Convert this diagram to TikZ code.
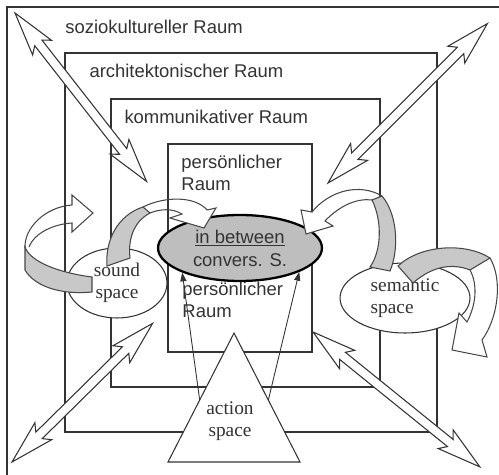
\documentclass[tikz,border=0pt]{standalone}
\usepackage{fontspec}
\setmainfont{Liberation Serif}
\newfontfamily\raumfont{Liberation Sans}
\usetikzlibrary{positioning,calc,arrows.meta,shapes.geometric}

\definecolor{strich}{HTML}{333333}
\definecolor{band}{HTML}{C8C8C8}
\definecolor{mitte}{HTML}{BEBEBE}

\tikzset{
	% Raeume (Rechtecke)
	raum/.style = {rectangle, draw=strich, line width=1pt, inner sep=0pt},
	rlabel/.style = {anchor=west, inner sep=0pt, align=left, text=strich,
	                 font=\raumfont\fontsize{10.5}{12.5}\selectfont},
	% Ellipsen fuer die spaces
	spc/.style = {ellipse, draw=strich, fill=white, line width=0.6pt, inner sep=0pt,
	              text=strich, font=\fontsize{11}{12.5}\selectfont},
	hollow/.style = {draw=strich, fill=white, line width=0.6pt},
	bandfront/.style = {draw=strich!90, fill=band, line width=0.6pt},
	bandback/.style = {draw=strich!90, line width=0.6pt},
	zeiger/.style = {draw=strich, line width=0.5pt, -{Triangle[length=5pt,width=3.5pt]}}
}

% hohler Doppelpfeil von #1 nach #2 (Masse in pt)
\newcommand{\hollowarrow}[2]{%
	\path[hollow] let \p1 = ($(#2)-(#1)$), \n1 = {atan2(\y1,\x1)},
		\n2 = {veclen(\x1,\y1)} in
		{[shift={(#1)}, rotate=\n1]
		(0pt,0pt) -- (25pt,-6.8pt) -- (21.6pt,-2.6pt) -- ({\n2-21.6pt},-2.6pt)
		-- ({\n2-25pt},-6.8pt) -- ({\n2},0pt) -- ({\n2-25pt},6.8pt)
		-- ({\n2-21.6pt},2.6pt) -- (21.6pt,2.6pt) -- (25pt,6.8pt) -- cycle};
}

\begin{document}
\begin{tikzpicture}[x=0.02cm, y=-0.02cm]
	\useasboundingbox (0,0) rectangle (499,475);

	% Raeume
	\draw[strich, line width=1pt] (7,475) |- (499,7);
	\node (arch) [raum, minimum width=7.44cm, minimum height=7.58cm] at (251,242.5) {};
	\node (komm) [raum, minimum width=5.38cm, minimum height=5.76cm] at (245.5,243) {};
	\node (pers) [raum, minimum width=2.88cm, minimum height=4.16cm] at (240,248) {};

	\node (lsoz)  [rlabel] at (65,27) {soziokultureller Raum};
	\node (larch) [rlabel] at ($(arch.north west)+(25,19)$) {architektonischer Raum};
	\node (lkomm) [rlabel] at ($(komm.north west)+(14,19)$) {kommunikativer Raum};
	\node (lpers) [rlabel] at ($(pers.north west)+(14,30)$) {persönlicher\\Raum};
	\node (lpers2) [rlabel] at ($(pers.north west)+(15,157)$) {persönlicher\\Raum};

	% Doppelpfeile
	\coordinate (tlA) at (15,13);   \coordinate (tlB) at (147,182);
	\coordinate (trA) at (328,183); \coordinate (trB) at (488,23);
	\coordinate (blA) at (12,462);  \coordinate (blB) at (153,323);
	\coordinate (brA) at (313,332); \coordinate (brB) at (480,467);
	\hollowarrow{tlA}{tlB}
	\hollowarrow{trA}{trB}
	\hollowarrow{blA}{blB}
	\hollowarrow{brA}{brB}

	% action space
	\coordinate (apex) at (234,333);
	\coordinate (bl) at (168,462);
	\coordinate (br) at (300,462);
	\filldraw[fill=white, draw=strich, line width=0.6pt] (apex) -- (bl) -- (br) -- cycle;
	\node (act) [text=strich, align=center, inner sep=0pt, font=\fontsize{11}{12.5}\selectfont]
		at (230,421) {action\\space};

	% Ellipsen
	\node (snd) [spc, align=center, minimum width=2cm, minimum height=1.4cm] at (117,283) {sound\\space};
	\node (sem) [spc, align=left, minimum width=2.6cm, minimum height=1.4cm] at (405,298) {semantic\\space};
	\node (main) [ellipse, draw=black, line width=1.3pt, fill=mitte, inner sep=0pt,
		minimum width=3.28cm, minimum height=1.32cm, align=center, text=strich,
		font=\raumfont\fontsize{10.5}{13}\selectfont] at (240,248)
		{\underline{in between}\\convers. S.};

	\coordinate (la) at ($(apex)!0.52!(bl)$);
	\coordinate (ra) at ($(apex)!0.52!(br)$);
	\draw[zeiger] (la) -- (main.203);
	\draw[zeiger] (ra) -- (main.338);

	% Schleife links
	\fill[white] (72,205) -- (72,195) -- (93,213) -- (72,232) -- (72,223) -- cycle;
	\draw[bandback] (25,248) .. controls (24,228) and (45,207) .. (72,205) -- (72,195) -- (93,213)
		-- (72,232) -- (72,223) .. controls (55,224) and (35,232) .. (29,247);
	\filldraw[bandfront] (92,277) .. controls (60,273) and (30,262) .. (25,247) -- (25,270)
		.. controls (35,287) and (62,295) .. (92,292) -- cycle;

	% sound space -> Mitte
	\fill[white] (207,210) -- (216,208) -- (204,228) -- (170,218) -- (182,214) -- cycle;
	\draw[bandback] (143,207) .. controls (165,196) and (195,196) .. (207,210) -- (216,208)
		-- (204,228) -- (170,218) -- (182,214) .. controls (172,208) and (160,209) .. (150,213);
	\filldraw[bandfront] (107,266) .. controls (105,240) and (118,215) .. (143,207) -- (150,213)
		.. controls (133,222) and (128,240) .. (130,258) -- cycle;

	% semantic space -> Mitte
	\fill[white] (312,212) -- (301,210) -- (306,234) -- (333,226) -- (325,221) -- cycle;
	\draw[bandback] (382,196) .. controls (360,183) and (330,190) .. (312,212) -- (301,210)
		-- (306,234) -- (333,226) -- (325,221) .. controls (340,205) and (358,198) .. (372,200);
	\filldraw[bandfront] (372,200) .. controls (382,220) and (382,250) .. (370,267) -- (390,271)
		.. controls (399,250) and (398,215) .. (382,196) -- cycle;

	% Schleife rechts
	\fill[white] (482,340) -- (487,357) -- (452,350) -- (459,313) -- (467,322) -- cycle;
	\draw[bandback] (490,258) .. controls (503,280) and (498,318) .. (482,340) -- (487,357)
		-- (452,350) -- (459,313) -- (467,322) .. controls (476,305) and (478,285) .. (470,270);
	\filldraw[bandfront] (398,266) .. controls (420,245) and (465,242) .. (490,258) -- (470,270)
		.. controls (450,262) and (430,268) .. (413,283) -- cycle;
\end{tikzpicture}
\end{document}
